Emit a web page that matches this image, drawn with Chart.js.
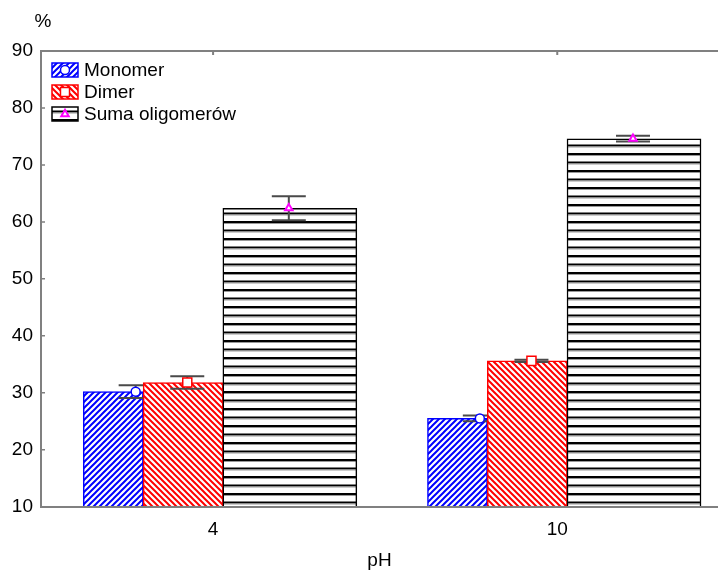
<!DOCTYPE html>
<html>
<head>
<meta charset="utf-8">
<script src="https://cdn.jsdelivr.net/npm/chart.js@4/dist/chart.umd.min.js"></script>
<style>
  body { margin: 0; background: #fff; }
  #wrap { width: 718px; height: 570px; }
</style>
</head>
<body>
<div id="wrap"><canvas id="phChart" width="718" height="570"></canvas></div>
<script>
// data
const categories = ["4", "10"];
const seriesNames = ["Monomer", "Dimer", "Suma oligomerów"];
const monomer = [30.2, 25.5];
const dimer = [31.8, 35.6];
const suma = [62.4, 74.6];
const monomerErr = [1.1, 0.5];
const dimerErr = [1.1, 0.2];
const sumaErr = [2.1, 0.5];
const yTicks = [10, 20, 30, 40, 50, 60, 70, 80, 90];

// layout of the bars inside a group (axis units / pixels)
const barOffset = [-0.29, -0.087, 0.223];
const markerOffset = [-0.225, -0.075, 0.22];
const barWidth = [60, 80, 134];

const FONT = "'Liberation Sans', Arial, sans-serif";
const font = { family: FONT, size: 19 };

function hatch(color, dir) {
  const c = document.createElement("canvas");
  c.width = 6; c.height = 6;
  const g = c.getContext("2d");
  g.fillStyle = "#fff";
  g.fillRect(0, 0, 6, 6);
  g.strokeStyle = color;
  g.lineWidth = 2;
  g.beginPath();
  if (dir > 0) {
    g.moveTo(-1, 7); g.lineTo(7, -1);
    g.moveTo(-1, 1); g.lineTo(1, -1);
    g.moveTo(5, 7); g.lineTo(7, 5);
  } else {
    g.moveTo(-1, -1); g.lineTo(7, 7);
    g.moveTo(5, -1); g.lineTo(7, 1);
    g.moveTo(-1, 5); g.lineTo(1, 7);
  }
  g.stroke();
  return g.createPattern(c, "repeat");
}

function hLines() {
  const c = document.createElement("canvas");
  c.width = 4; c.height = 17;
  const g = c.getContext("2d");
  g.fillStyle = "#fff";
  g.fillRect(0, 0, 4, 17);
  g.fillStyle = "#000";
  g.fillRect(0, 0, 4, 2);
  g.fillRect(0, 8.5, 4, 2);
  g.fillStyle = "#999";
  g.fillRect(0, 2, 4, 1);
  g.fillRect(0, 10.5, 4, 1);
  return g.createPattern(c, "repeat");
}

const fills = [hatch("#0000ff", 1), hatch("#ff0000", -1), hLines()];
const edges = ["#0000ff", "#ff0000", "#000000"];
const values = [monomer, dimer, suma];
const errors = [monomerErr, dimerErr, sumaErr];
const markers = [
  { style: "circle", r: 4.5, color: "#0000ff", w: 1.5 },
  { style: "rect", r: 6.4, color: "#ff0000", w: 1.5 },
  { style: "triangle", r: 4.3, color: "#ff00ff", w: 2 },
];

const barSets = values.map((vals, k) => ({
  type: "bar",
  label: seriesNames[k],
  data: vals.map((v, i) => ({ x: i + barOffset[k], y: v })),
  backgroundColor: fills[k],
  borderColor: edges[k],
  borderWidth: 1.5,
  borderSkipped: false,
  barThickness: barWidth[k],
  grouped: false,
  order: 3 - k,
}));

const markerSets = values.map((vals, k) => ({
  type: "line",
  label: seriesNames[k] + " mean",
  data: vals.map((v, i) => ({ x: i + markerOffset[k], y: v })),
  showLine: false,
  pointStyle: markers[k].style,
  pointRadius: markers[k].r,
  pointBorderWidth: markers[k].w,
  pointBorderColor: markers[k].color,
  pointBackgroundColor: "#fff",
  order: 0,
}));

// error bars drawn right after their own bar series, so the next series covers them
const errorBars = {
  id: "errorBars",
  afterDatasetDraw(chart, args) {
    const k = args.index;
    if (k > 2) return;
    const { ctx, scales: { x, y } } = chart;
    ctx.save();
    ctx.strokeStyle = "#4a4a4a";
    ctx.lineWidth = 2;
    values[k].forEach((v, i) => {
      const px = x.getPixelForValue(i + markerOffset[k]);
      const hi = y.getPixelForValue(v + errors[k][i]);
      const lo = y.getPixelForValue(v - errors[k][i]);
      ctx.beginPath();
      ctx.moveTo(px, hi); ctx.lineTo(px, lo);
      ctx.moveTo(px - 17, hi); ctx.lineTo(px + 17, hi);
      ctx.moveTo(px - 17, lo); ctx.lineTo(px + 17, lo);
      ctx.stroke();
    });
    ctx.restore();
  },
};

function drawMarker(ctx, m, cx, cy) {
  ctx.save();
  ctx.fillStyle = "#fff";
  ctx.strokeStyle = m.color;
  ctx.lineWidth = m.w;
  ctx.beginPath();
  if (m.style === "circle") {
    ctx.arc(cx, cy, m.r, 0, Math.PI * 2);
  } else if (m.style === "rect") {
    const s = m.r * Math.SQRT1_2;
    ctx.rect(cx - s, cy - s, 2 * s, 2 * s);
  } else {
    ctx.moveTo(cx, cy - m.r);
    ctx.lineTo(cx + m.r * 0.866, cy + m.r * 0.5);
    ctx.lineTo(cx - m.r * 0.866, cy + m.r * 0.5);
    ctx.closePath();
  }
  ctx.fill();
  ctx.stroke();
  ctx.restore();
}

const frameAndLegend = {
  id: "frameAndLegend",
  afterDraw(chart) {
    const { ctx, chartArea: a, scales: { x, y } } = chart;
    ctx.save();
    // top frame line with small ticks
    ctx.strokeStyle = "#808080";
    ctx.lineWidth = 2;
    ctx.beginPath();
    ctx.moveTo(a.left - 1, a.top);
    ctx.lineTo(chart.width, a.top);
    categories.forEach((c, i) => {
      const px = x.getPixelForValue(i);
      ctx.moveTo(px, a.top); ctx.lineTo(px, a.top + 4);
    });
    ctx.stroke();
    // inward ticks on y axis
    ctx.lineWidth = 1.5;
    ctx.beginPath();
    yTicks.forEach(t => {
      const py = y.getPixelForValue(t);
      ctx.moveTo(a.left, py); ctx.lineTo(a.left + 4, py);
    });
    ctx.stroke();
    // unit label
    ctx.fillStyle = "#000";
    ctx.font = "19px " + FONT;
    ctx.textAlign = "center";
    ctx.textBaseline = "middle";
    ctx.fillText("%", 43, 22);
    // legend
    ctx.textAlign = "left";
    seriesNames.forEach((name, k) => {
      const bx = 52, by = 63 + k * 22;
      ctx.fillStyle = fills[k];
      ctx.fillRect(bx, by, 26, 14);
      ctx.strokeStyle = edges[k];
      ctx.lineWidth = 1.5;
      ctx.strokeRect(bx, by, 26, 14);
      drawMarker(ctx, markers[k], bx + 13, by + 7);
      ctx.fillStyle = "#000";
      ctx.fillText(name, 84, by + 7.5);
    });
    ctx.restore();
  },
};

const phChart = new Chart(document.getElementById("phChart"), {
  data: { datasets: [...barSets, ...markerSets] },
  options: {
    responsive: false,
    animation: false,
    devicePixelRatio: 1,
    layout: { autoPadding: false, padding: { top: 51, right: 0, bottom: 0, left: 0 } },
    plugins: { legend: { display: false }, tooltip: { enabled: false } },
    scales: {
      x: {
        type: "linear",
        offset: false,
        min: -0.5,
        max: 1.467,
        afterBuildTicks: (s) => { s.ticks = categories.map((c, i) => ({ value: i })); },
        afterFit: (s) => { s.height = 63.3; s.paddingRight = 0; s.paddingLeft = 0; },
        ticks: { callback: (v) => categories[v], font, color: "#000", padding: 12, autoSkip: false, maxRotation: 0 },
        grid: { display: false, drawTicks: false, offset: false },
        border: { color: "#808080", width: 2, z: 1 },
        title: { display: true, text: "pH", font, color: "#000", padding: { top: 0, bottom: -2 } },
      },
      y: {
        min: 10,
        max: 90,
        afterBuildTicks: (s) => { s.ticks = yTicks.map(v => ({ value: v })); },
        afterFit: (s) => { s.width = 41; },
        ticks: { font, color: "#000", padding: 8 },
        grid: { display: false, drawTicks: false },
        border: { color: "#808080", width: 2, z: 1 },
      },
    },
  },
  plugins: [errorBars, frameAndLegend],
});
</script>
</body>
</html>
